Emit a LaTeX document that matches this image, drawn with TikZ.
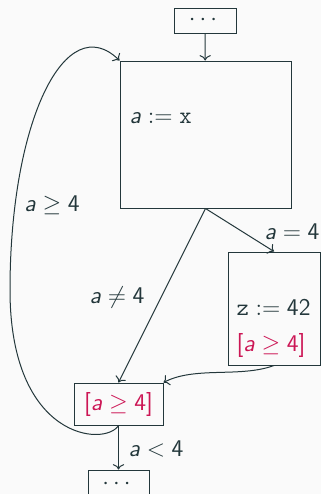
\documentclass[tikz,border=0pt]{standalone}
\usepackage{amsmath,amssymb}
\usepackage{xcolor}
\usepackage{tikz}
\usetikzlibrary{arrows.meta,positioning,calc}
\definecolor{bg}{HTML}{FAFAFA}
\definecolor{fg}{HTML}{23373B}
\definecolor{hint}{HTML}{CC1655}
\newcommand{\sfa}{\textsf{\textit{a}}}
\newcommand{\sfn}[1]{\textsf{#1}}

\begin{document}
\begin{tikzpicture}[x=0.5pt, y=-0.5pt, fg, draw=fg, font=\sffamily\fontsize{12}{14}\selectfont, line width=0.5pt]
\tikzset{blk/.style={draw, inner sep=0pt}, lbl/.style={inner sep=0pt}}
\fill[bg] (0,0) rectangle (321,494);
\useasboundingbox (0,0) rectangle (321,494);
\node[blk, minimum width=31pt, minimum height=12.5pt] (top) at (205,20.5) {$\cdots$};
\node[blk, minimum width=85.5pt, minimum height=73.5pt] (assign) at (205.5,134.5) {};
\node[blk, minimum width=46pt, minimum height=56.5pt] (zbox) at (274,308.5) {};
\node[blk, minimum width=44.5pt, minimum height=21pt] (join) at (118.5,404) {\color{hint}$\sfn{[}\sfa \geq \sfn{4]}$};
\node[blk, minimum width=30.5pt, minimum height=14pt] (exit) at (118.5,484) {$\cdots$};
\node[lbl, anchor=west] (ax) at (129,118) {$\sfa := \texttt{x}$};
\node[lbl, anchor=west] (zz) at (236,307) {$\texttt{z} := \sfn{42}$};
\node[lbl, anchor=west] (zh) at (236,345) {\color{hint}$\sfn{[}\sfa \geq \sfn{4]}$};
\draw[->] (top) -- (assign);
\draw[->] (assign.south) -- (join.north) node[lbl] (ne) at (117,297) {$\sfa \neq \sfn{4}$};
\draw[->] (assign.south) -- (zbox.north) node[lbl] (eq) at (292,232) {$\sfa = \sfn{4}$};
\draw[->] (zbox.south) .. controls (240,378) and (195,366) .. (join.north east);
\draw[->] (join.south) .. controls (105,447) and (10,440) .. (10,290) .. controls (10,120) and (66,8) .. (assign.north west);
\node[lbl] (ge) at (52,205) {$\sfa \geq \sfn{4}$};
\draw[->] (join) -- (exit) node[lbl] (lt) at (156,449) {$\sfa < \sfn{4}$};
\end{tikzpicture}
\end{document}
